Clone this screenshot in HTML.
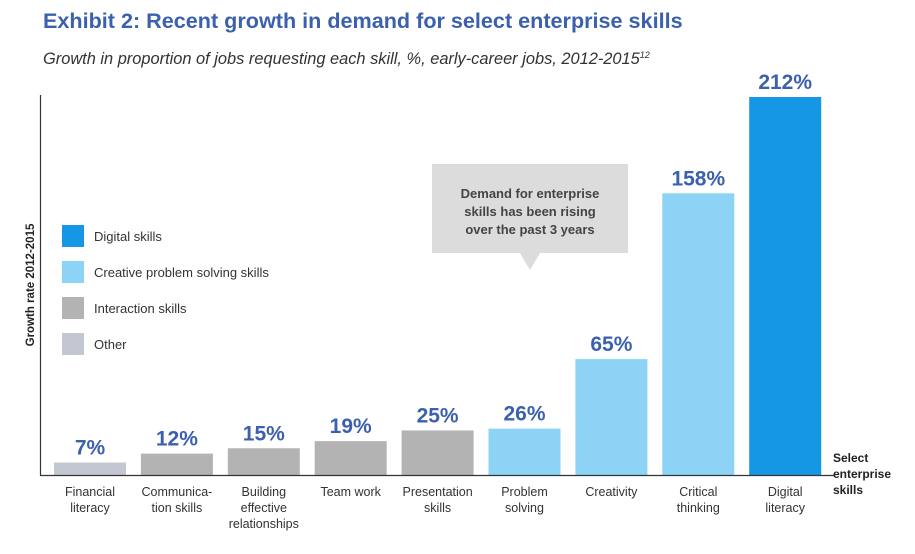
<!DOCTYPE html>
<html><head><meta charset="utf-8"><style>
body{margin:0;background:#fff;width:915px;height:549px;overflow:hidden;font-family:"Liberation Sans",sans-serif}
</style></head><body>
<svg width="915" height="549">
<text x="43" y="28" font-size="21.6" font-weight="bold" fill="#3b61ae">Exhibit 2: Recent growth in demand for select enterprise skills</text>
<text x="43" y="64" font-size="16.4" font-style="italic" fill="#333">Growth in proportion of jobs requesting each skill, %, early-career jobs, 2012-2015<tspan font-size="9" dy="-6">12</tspan></text>
<line x1="40.5" y1="95" x2="40.5" y2="476" stroke="#333" stroke-width="1.2"/>
<text transform="translate(34,285) rotate(-90)" text-anchor="middle" font-size="11.5" font-weight="bold" fill="#222">Growth rate 2012-2015</text>
<g id="bars"></g>
<line x1="40" y1="475.5" x2="835" y2="475.5" stroke="#333" stroke-width="1.2"/>
<text font-size="12" font-weight="bold" fill="#222"><tspan x="833" y="462">Select</tspan><tspan x="833" y="478">enterprise</tspan><tspan x="833" y="494">skills</tspan></text>
<g>
<rect x="62" y="225" width="22" height="22" fill="#1597e5"/>
<text x="94" y="241" font-size="13" fill="#333">Digital skills</text>
<rect x="62" y="261" width="22" height="22" fill="#8dd3f5"/>
<text x="94" y="277" font-size="13" fill="#333">Creative problem solving skills</text>
<rect x="62" y="297" width="22" height="22" fill="#b3b3b3"/>
<text x="94" y="313" font-size="13" fill="#333">Interaction skills</text>
<rect x="62" y="333" width="22" height="22" fill="#c3c7d1"/>
<text x="94" y="349" font-size="13" fill="#333">Other</text>
</g>
<g>
<path d="M432 164 H628 V253 H540 L530 270 L520 253 H432 Z" fill="#dcdcdc"/>
<text text-anchor="middle" font-size="13" font-weight="bold" fill="#444"><tspan x="530" y="198">Demand for enterprise</tspan><tspan x="530" y="216">skills has been rising</tspan><tspan x="530" y="234">over the past 3 years</tspan></text>
</g>
</svg>
<script>
const categories=[["Financial","literacy"],["Communica-","tion skills"],["Building","effective","relationships"],["Team work"],["Presentation","skills"],["Problem","solving"],["Creativity"],["Critical","thinking"],["Digital","literacy"]];
const values=[7,12,15,19,25,26,65,158,212];
const groups=["other","interaction","interaction","interaction","interaction","creative","creative","creative","digital"];
const colors={other:"#c3c7d1",interaction:"#b3b3b3",creative:"#8dd3f5",digital:"#1597e5"};
const base=475,scale=378/212,x0=54,step=86.9,bw=72;
const yS=v=>base-v*scale, xS=i=>x0+i*step;
const g=document.getElementById('bars'),NS="http://www.w3.org/2000/svg";
values.forEach((v,i)=>{
 const r=document.createElementNS(NS,'rect');
 r.setAttribute('x',xS(i));r.setAttribute('y',yS(v));r.setAttribute('width',bw);r.setAttribute('height',base-yS(v));
 r.setAttribute('fill',colors[groups[i]]);
 
 
 g.appendChild(r);
 const t=document.createElementNS(NS,'text');
 t.setAttribute('x',xS(i)+bw/2);t.setAttribute('y',yS(v)-8);t.setAttribute('text-anchor','middle');
 t.setAttribute('font-size','21');t.setAttribute('font-weight','bold');t.setAttribute('fill','#3b61ae');
 t.textContent=v+'%';
 
 
 g.appendChild(t);
 const c=document.createElementNS(NS,'text');
 c.setAttribute('text-anchor','middle');c.setAttribute('font-size','12.5');c.setAttribute('fill','#333');
 categories[i].forEach((s,k)=>{const sp=document.createElementNS(NS,'tspan');sp.setAttribute('x',xS(i)+bw/2);sp.setAttribute('y',496+k*16);sp.textContent=s;c.appendChild(sp);});
 
 
 g.appendChild(c);
});
</script>
</body></html>
